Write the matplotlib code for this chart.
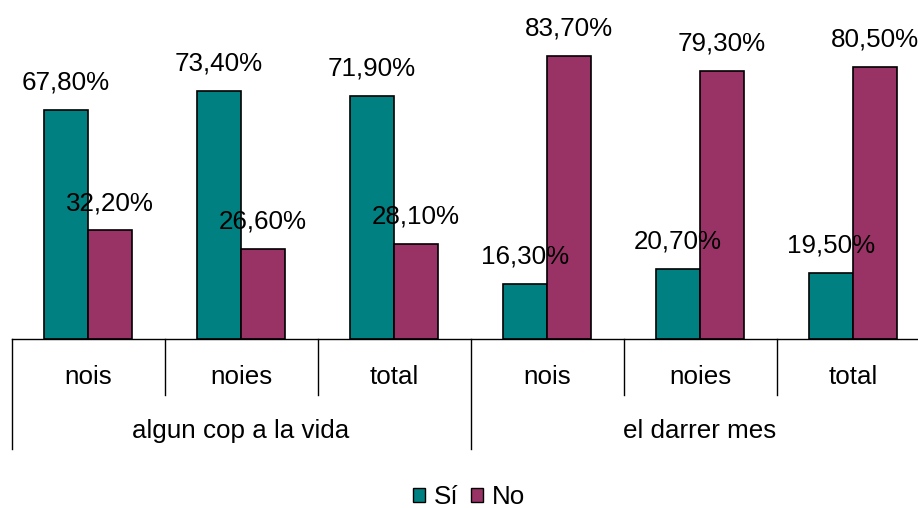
import matplotlib.pyplot as plt
from matplotlib.patches import Patch

categories = ["nois", "noies", "total", "nois", "noies", "total"]
groups = ["algun cop a la vida", "el darrer mes"]
si_values = [67.8, 73.4, 71.9, 16.3, 20.7, 19.5]
no_values = [32.2, 26.6, 28.1, 83.7, 79.3, 80.5]

teal = "#008080"
maroon = "#993366"
fs = 18.7

plt.rcParams['font.family'] = ['Liberation Sans', 'DejaVu Sans']

fig = plt.figure(figsize=(9.18, 5.08), dpi=100)
W, H = 918, 508
# axes runs past the right edge of the picture, like the original
ax = fig.add_axes([11.5 / W, (H - 339) / H, 918 / W, 338 / H])

x = list(range(len(categories)))
bw = 0.29
ax.bar([i - bw / 2 for i in x], si_values, bw, color=teal, edgecolor="black", linewidth=1.2)
ax.bar([i + bw / 2 for i in x], no_values, bw, color=maroon, edgecolor="black", linewidth=1.2)

def fmt(v):
    return f"{v:.2f}".replace(".", ",") + "%"

for i in x:
    for off, v in ((-bw / 2, si_values[i]), (bw / 2, no_values[i])):
        ax.annotate(fmt(v), (i + off, v), xytext=(0, 14.5), textcoords="offset points",
                    ha="center", va="baseline", fontsize=fs, annotation_clip=False)

ax.set_xlim(-0.5, len(categories) - 0.5)
ax.set_ylim(0, 100)
for s in ["top", "left", "right"]:
    ax.spines[s].set_visible(False)
ax.spines["bottom"].set_linewidth(1.0)
ax.set_xticks([])
ax.set_yticks([])

tr = ax.get_xaxis_transform()
ax_h = 338.0
for b in range(len(categories) + 1):
    pos = b - 0.5
    low = -110 / ax_h if b % 3 == 0 else -56 / ax_h
    ax.plot([pos, pos], [0, low], color="black", linewidth=1.0, transform=tr, clip_on=False)

for i, c in enumerate(categories):
    ax.text(i, -38 / ax_h, c, transform=tr, ha="center", va="center", fontsize=fs)
for g, name in enumerate(groups):
    ax.text(g * 3 + 1, -92 / ax_h, name, transform=tr, ha="center", va="center", fontsize=fs)

handles = [Patch(facecolor=teal, edgecolor="black", label="Sí"),
           Patch(facecolor=maroon, edgecolor="black", label="No")]
fig.legend(handles=handles, loc="center", bbox_to_anchor=(469 / W, 1 - 497 / H), ncol=2,
           frameon=False, fontsize=fs, handlelength=0.47, handleheight=0.47,
           handletextpad=0.35, columnspacing=0.45, borderpad=0)

fig.savefig("out.png", dpi=100)
